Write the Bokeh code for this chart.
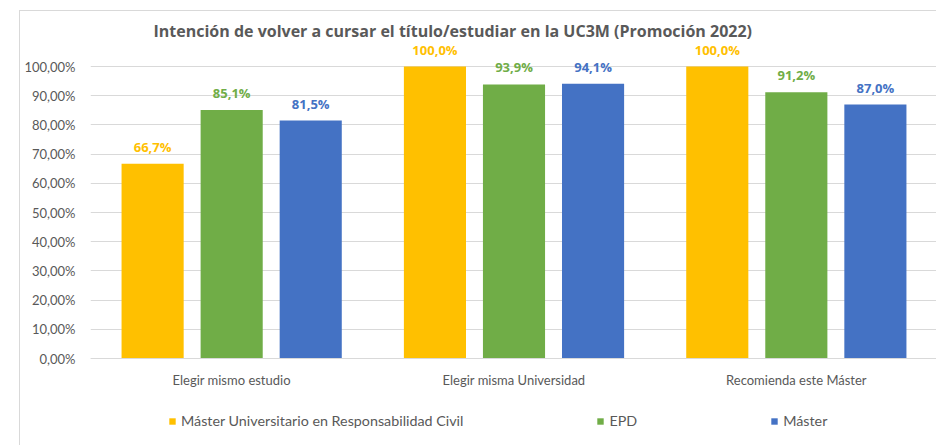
from bokeh.plotting import figure
from bokeh.models import ColumnDataSource, FactorRange, FixedTicker, Legend, LegendItem
from bokeh.transform import dodge
from bokeh.core.properties import value
from bokeh.embed import file_html
from bokeh.resources import INLINE

# ---- data ----
title_text = "Intención de volver a cursar el título/estudiar en la UC3M (Promoción 2022)"
categories = ["Elegir mismo estudio", "Elegir misma Universidad", "Recomienda este Máster"]
series_names = ["Máster Universitario en Responsabilidad Civil", "EPD", "Máster"]
muc_values = [66.7, 100.0, 100.0]
epd_values = [85.1, 93.9, 91.2]
master_values = [81.5, 94.1, 87.0]
y_ticks = [0, 10, 20, 30, 40, 50, 60, 70, 80, 90, 100]
y_tick_labels = ["0,00%", "10,00%", "20,00%", "30,00%", "40,00%", "50,00%",
                 "60,00%", "70,00%", "80,00%", "90,00%", "100,00%"]

colors = ["#FFC000", "#70AD47", "#4472C4"]
FONT = "Lato"
GRAY = "#595959"

p = figure(
    x_range=FactorRange(*categories, range_padding=0),
    y_range=(-30.14, 108.6),
    width=917, height=435,
    output_backend="svg", toolbar_location=None,
    min_border_left=70, min_border_right=0, min_border_top=30, min_border_bottom=0,
)
p.styles = {"margin-left": "19px", "margin-top": "10px",
            "border-left": "1px solid #d9d9d9", "border-top": "1px solid #d9d9d9"}

p.title.text = title_text
p.title.align = "left"
p.title.offset = 63
p.title.standoff = 0
p.title.text_font = "Open Sans"
p.title.text_font_size = "16px"
p.title.text_font_style = "bold"
p.title.text_color = GRAY

p.outline_line_color = None
p.xgrid.grid_line_color = None
p.ygrid.grid_line_color = "#d9d9d9"
p.ygrid.grid_line_width = 1

p.yaxis.ticker = FixedTicker(ticks=y_ticks)
p.yaxis.major_label_overrides = {t: l for t, l in zip(y_ticks, y_tick_labels)}
p.yaxis.axis_line_color = None
p.yaxis.major_tick_line_color = None
p.yaxis.major_tick_out = 0
p.yaxis.major_tick_in = 0
p.yaxis.minor_tick_line_color = None
p.yaxis.minor_tick_out = 0
p.yaxis.major_label_standoff = 15
p.yaxis.major_label_text_font = FONT
p.yaxis.major_label_text_font_size = "13px"
p.yaxis.major_label_text_color = GRAY

p.xaxis.fixed_location = 0
p.xaxis.axis_line_color = "#d9d9d9"
p.xaxis.major_tick_line_color = None
p.xaxis.major_tick_out = 0
p.xaxis.major_tick_in = 0
p.xaxis.minor_tick_line_color = None
p.xaxis.minor_tick_out = 0
p.xaxis.major_label_standoff = 13
p.xaxis.major_label_text_font = FONT
p.xaxis.major_label_text_font_size = "13px"
p.xaxis.major_label_text_color = GRAY

offsets = [-0.28, 0.0, 0.28]
all_values = [muc_values, epd_values, master_values]
items = []
for name, vals, col, off in zip(series_names, all_values, colors, offsets):
    src = ColumnDataSource(dict(
        cat=categories, val=vals,
        lab=[f"{v:.1f}%".replace(".", ",") for v in vals],
    ))
    r = p.vbar(x=dodge("cat", off, range=p.x_range), top="val", width=0.22,
               source=src, fill_color=col, line_color=None)
    p.text(x=dodge("cat", off, range=p.x_range), y="val", text="lab", source=src,
           text_align="center", text_baseline="middle", y_offset=-17,
           text_font=value("Open Sans"), text_font_size="13px", text_font_style="bold",
           text_color=col)
    items.append(LegendItem(label=name, renderers=[r]))

legend = Legend(items=items, orientation="horizontal", location=(78, 17),
                padding=0, margin=0, spacing=133, border_line_color=None,
                background_fill_alpha=0, glyph_width=8, glyph_height=8,
                label_standoff=5, label_height=16,
                label_text_font=FONT, label_text_font_size="14.3px",
                label_text_color=GRAY)
p.add_layout(legend, "center")

open("out.html", "w").write(file_html(p, INLINE))
